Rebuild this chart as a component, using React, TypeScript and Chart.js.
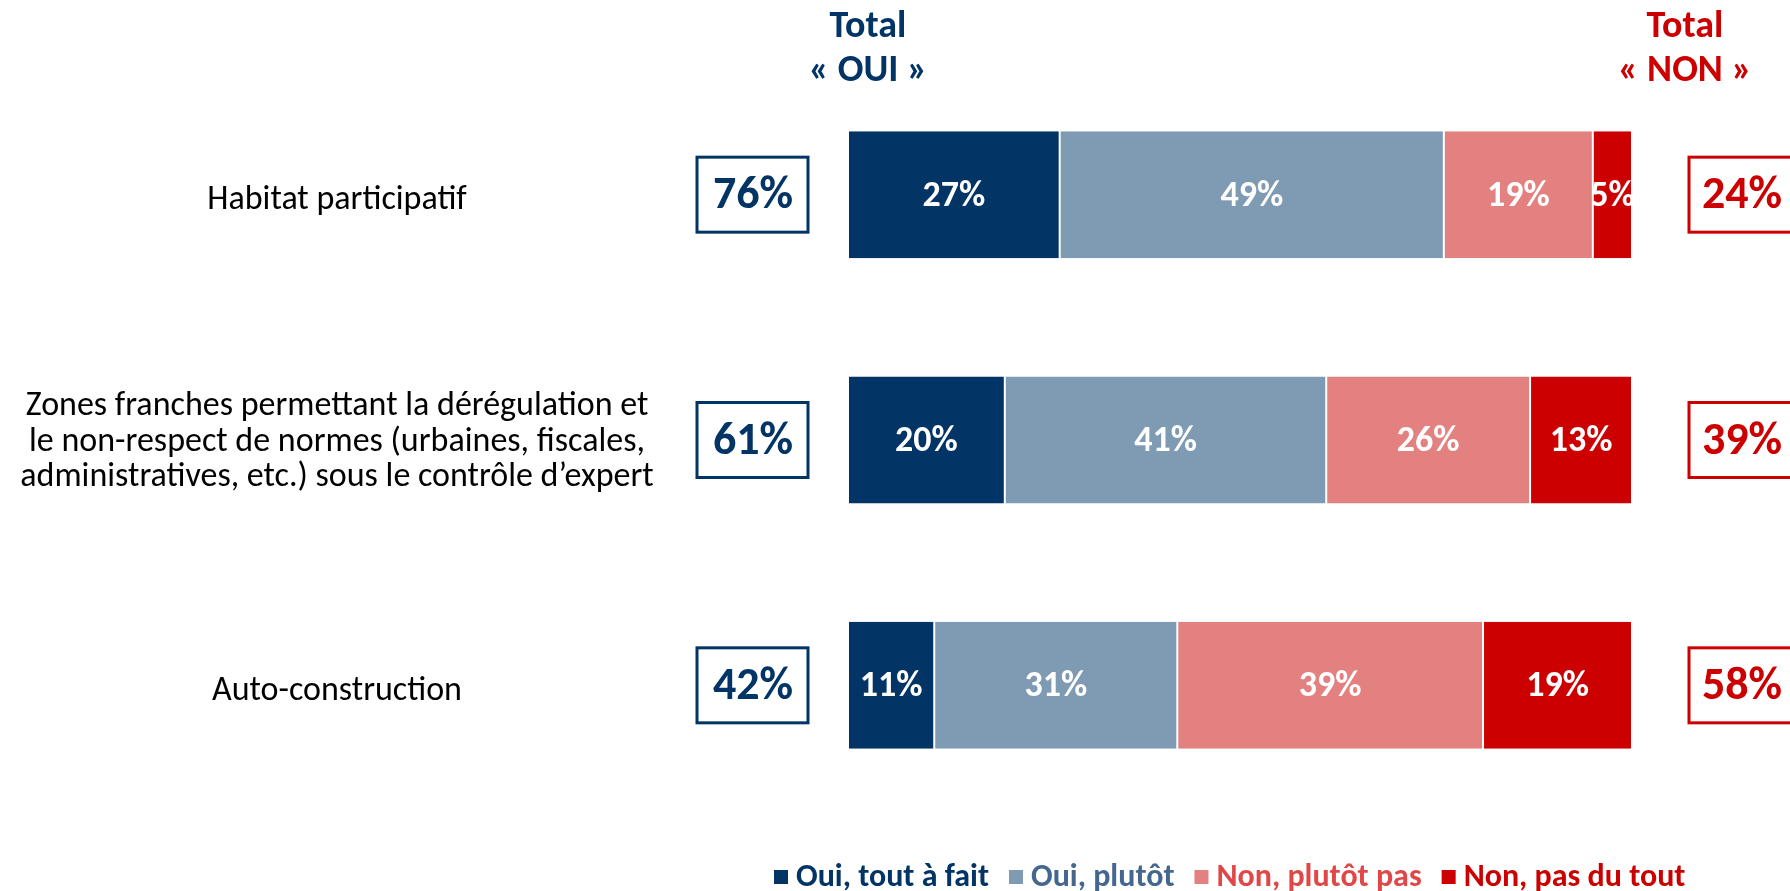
import React, { useEffect, useRef } from "react";
import { Chart, registerables } from "chart.js";

Chart.register(...registerables);

const categories: string[][] = [
  ["Habitat participatif"],
  [
    "Zones franches permettant la dérégulation et",
    "le non-respect de normes (urbaines, fiscales,",
    "administratives, etc.) sous le contrôle d’expert",
  ],
  ["Auto-construction"],
];

const seriesNames = ["Oui, tout à fait", "Oui, plutôt", "Non, plutôt pas", "Non, pas du tout"];
const ouiToutAFait = [27, 20, 11];
const ouiPlutot = [49, 41, 31];
const nonPlutotPas = [19, 26, 39];
const nonPasDuTout = [5, 13, 19];
const totalOui = [76, 61, 42];
const totalNon = [24, 39, 58];

const barColors = ["#033466", "#7f9ab3", "#e38080", "#cc0000"];
const legendTextColors = ["#033466", "#45678f", "#e04848", "#cc0000"];
const BLUE = "#033466";
const RED = "#cc0000";
const FONT = "Carlito, Lato, 'Open Sans', sans-serif";

const overlayPlugin = {
  id: "overlay",
  afterDatasetsDraw(chart: any) {
    const ctx = chart.ctx as CanvasRenderingContext2D;
    const yScale = chart.scales.y;
    const area = chart.chartArea;

    // value labels inside segments, clipped to the segment
    chart.data.datasets.forEach((ds: any, di: number) => {
      const meta = chart.getDatasetMeta(di);
      meta.data.forEach((el: any, i: number) => {
        const p = el.getProps(["x", "y", "base", "height"], true);
        const left = Math.min(p.x, p.base);
        const right = Math.max(p.x, p.base);
        ctx.save();
        ctx.beginPath();
        ctx.rect(left, p.y - p.height / 2, right - left, p.height);
        ctx.clip();
        ctx.fillStyle = "#ffffff";
        ctx.font = `bold 36px ${FONT}`;
        ctx.textAlign = "center";
        ctx.textBaseline = "middle";
        ctx.fillText(`${ds.data[i]}%`, (left + right) / 2, p.y + 2);
        ctx.restore();
      });
    });

    ctx.save();
    categories.forEach((lines, i) => {
      const yc = yScale.getPixelForValue(i);
      ctx.fillStyle = "#000000";
      ctx.font = `34px ${FONT}`;
      ctx.textAlign = "center";
      ctx.textBaseline = "middle";
      const lh = 35.5;
      const off = lines.length === 1 ? 6 : 2;
      lines.forEach((ln, k) => {
        ctx.fillText(ln, 337, yc + off + (k - (lines.length - 1) / 2) * lh);
      });

      // total boxes
      const bh = 75;
      ctx.lineWidth = 3;
      ctx.strokeStyle = BLUE;
      ctx.strokeRect(area.left - 151, yc - bh / 2, 111, bh);
      ctx.fillStyle = BLUE;
      ctx.font = `bold 46px ${FONT}`;
      ctx.fillText(`${totalOui[i]}%`, area.left - 95, yc + 2);

      ctx.strokeStyle = RED;
      ctx.strokeRect(area.right + 57, yc - bh / 2, 112, bh);
      ctx.fillStyle = RED;
      ctx.fillText(`${totalNon[i]}%`, area.right + 110, yc + 2);
    });

    // headers
    ctx.font = `bold 38px ${FONT}`;
    ctx.textAlign = "center";
    ctx.textBaseline = "middle";
    ctx.fillStyle = BLUE;
    ctx.fillText("Total", area.left + 20, 27);
    ctx.fillText("« OUI »", area.left + 20, 71);
    ctx.fillStyle = RED;
    ctx.fillText("Total", area.right + 53, 27);
    ctx.fillText("« NON »", area.right + 53, 71);

    // legend
    ctx.font = `bold 32px ${FONT}`;
    ctx.textAlign = "left";
    let x = 774;
    const ly = 877;
    seriesNames.forEach((name, k) => {
      ctx.fillStyle = barColors[k];
      ctx.fillRect(x, ly - 7, 14, 14);
      x += 22;
      ctx.fillStyle = legendTextColors[k];
      ctx.fillText(name, x, ly + 1);
      x += ctx.measureText(name).width + 20;
    });
    ctx.restore();
  },
};

export default function App() {
  const ref = useRef<HTMLCanvasElement | null>(null);
  useEffect(() => {
    if (!ref.current) return;
    const values = [ouiToutAFait, ouiPlutot, nonPlutotPas, nonPasDuTout];
    const chart = new Chart(ref.current, {
      type: "bar",
      data: {
        labels: categories,
        datasets: values.map((v, k) => ({
          label: seriesNames[k],
          data: v,
          backgroundColor: barColors[k],
          borderColor: "#ffffff",
          borderWidth: { left: 1, right: 1, top: 0, bottom: 0 },
          borderSkipped: false,
          categoryPercentage: 0.518,
          barPercentage: 1,
        })),
      },
      options: {
        indexAxis: "y",
        responsive: false,
        animation: false,
        layout: { padding: { left: 848, right: 158, top: 72, bottom: 83 } },
        scales: {
          x: { stacked: true, min: 0, max: 100, display: false },
          y: { stacked: true, display: false },
        },
        plugins: {
          legend: { display: false },
          tooltip: { enabled: false },
        },
      },
      plugins: [overlayPlugin],
    } as any);
    return () => chart.destroy();
  }, []);
  return (
    <div style={{ position: "fixed", left: 0, top: 0, width: 1790, height: 891, background: "#fff" }}>
      <canvas ref={ref} width={1790} height={891} style={{ display: "block" }} />
    </div>
  );
}
